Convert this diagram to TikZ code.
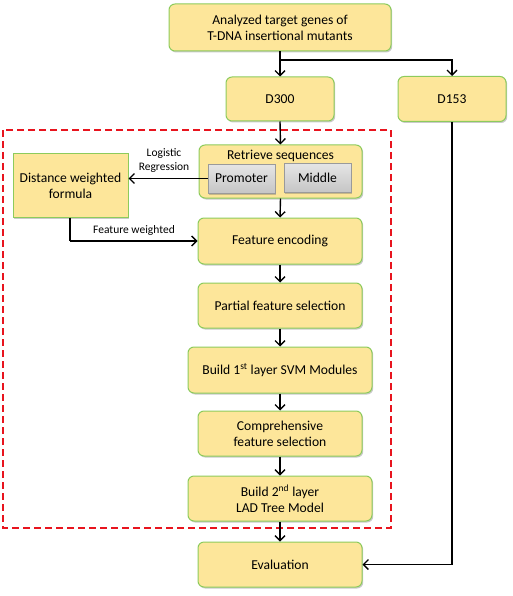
\documentclass[tikz,border=0pt]{standalone}
\usepackage{fontspec}
\setmainfont{Carlito}
\usetikzlibrary{arrows.meta,shadows,calc}
\definecolor{boxfill}{HTML}{FDE69A}
\definecolor{boxline}{HTML}{8DCB5C}
\definecolor{grayfill}{HTML}{C9C9C9}
\definecolor{grayline}{HTML}{9A9A9A}
\definecolor{dashred}{HTML}{E8141E}
\tikzset{
  ybox/.style={draw=boxline, line width=1pt, fill=boxfill, rounded corners=6pt,
    align=center, inner sep=2pt,
    drop shadow={shadow xshift=1.2pt, shadow yshift=-1.5pt, opacity=0.35, fill=black!60},
    font=\fontsize{13.6}{16}\selectfont},
  gbox/.style={draw=grayline, line width=0.8pt, top color=gray!20, bottom color=gray!45,
    align=center, inner sep=2pt,
    drop shadow={shadow xshift=1.2pt, shadow yshift=-1.5pt, opacity=0.35, fill=black!60},
    font=\fontsize{13.6}{16}\selectfont},
  arr/.style={draw=black, line width=1.4pt, -{Straight Barb[length=5pt,width=10pt,line width=1.3pt]}},
  conn/.style={draw=black, line width=1.4pt},
  lbl/.style={font=\fontsize{11.5}{14}\selectfont, align=center, inner sep=0pt},
}
\begin{document}
\begin{tikzpicture}[x=1pt,y=-1pt]
\useasboundingbox (0,0) rectangle (512,596);
% dashed frame
\draw[dashred, line width=1.4pt, dash pattern=on 7pt off 4pt] (3,130) rectangle (391,528);
% nodes
\node[ybox, minimum width=222pt, minimum height=47pt] (top) at (280,27.5) {Analyzed target genes of\\T-DNA insertional mutants};
\node[ybox, minimum width=108pt, minimum height=44pt] (d300) at (280,99) {D300};
\node[ybox, minimum width=108pt, minimum height=45pt] (d153) at (452,99) {D153};
\node[ybox, minimum width=163pt, minimum height=53pt] (ret) at (280.5,171.5) {};
\node[font=\fontsize{13.6}{16}\selectfont, inner sep=0pt] (rettxt) at (280.5,155.5) {Retrieve sequences};
\node[gbox, minimum width=67pt, minimum height=29pt] (prom) at (241.5,178.5) {Promoter};
\node[gbox, minimum width=67pt, minimum height=29pt] (mid) at (317.5,177.5) {Middle};
\node[ybox, rounded corners=0pt, minimum width=115pt, minimum height=63pt] (dist) at (70.5,185.5) {Distance weighted\\formula};
\node[ybox, minimum width=164pt, minimum height=46pt] (enc) at (280,241) {Feature encoding};
\node[ybox, minimum width=164pt, minimum height=45pt] (part) at (280,305.5) {Partial feature selection};
\node[ybox, minimum width=184pt, minimum height=46pt] (b1) at (280,370) {Build 1\textsuperscript{st} layer SVM Modules};
\node[ybox, minimum width=164pt, minimum height=45pt] (comp) at (280,433.5) {Comprehensive\\feature selection};
\node[ybox, minimum width=184pt, minimum height=45pt] (b2) at (280,498.5) {Build 2\textsuperscript{nd} layer\\LAD Tree Model};
\node[ybox, minimum width=164pt, minimum height=45pt] (eval) at (280,564.5) {Evaluation};
% connectors
\coordinate (fork) at (280,60);
\draw[arr] (top.south) -- (d300.north);
\draw[arr] (fork) -| (d153.north);
\draw[arr] (d300.south) -- (ret.north);
\draw[arr] (prom.west) -- (prom.west -| dist.east);
\node[lbl] (lr) at (164,161) {Logistic\\Regression};
\coordinate (fw) at (70,241);
\draw[conn] (dist.south -| fw) -- (fw);
\draw[arr] (fw) -- (enc.west);
\node[lbl] (fwl) at (134,230) {Feature weighted};
\draw[arr] (ret.south) -- (enc.north);
\draw[arr] (enc.south) -- (part.north);
\draw[arr] (part.south) -- (b1.north);
\draw[arr] (b1.south) -- (comp.north);
\draw[arr] (comp.south) -- (b2.north);
\draw[arr] (b2.south) -- (eval.north);
\draw[arr] (d153.south) |- (eval.east);
\end{tikzpicture}
\end{document}
